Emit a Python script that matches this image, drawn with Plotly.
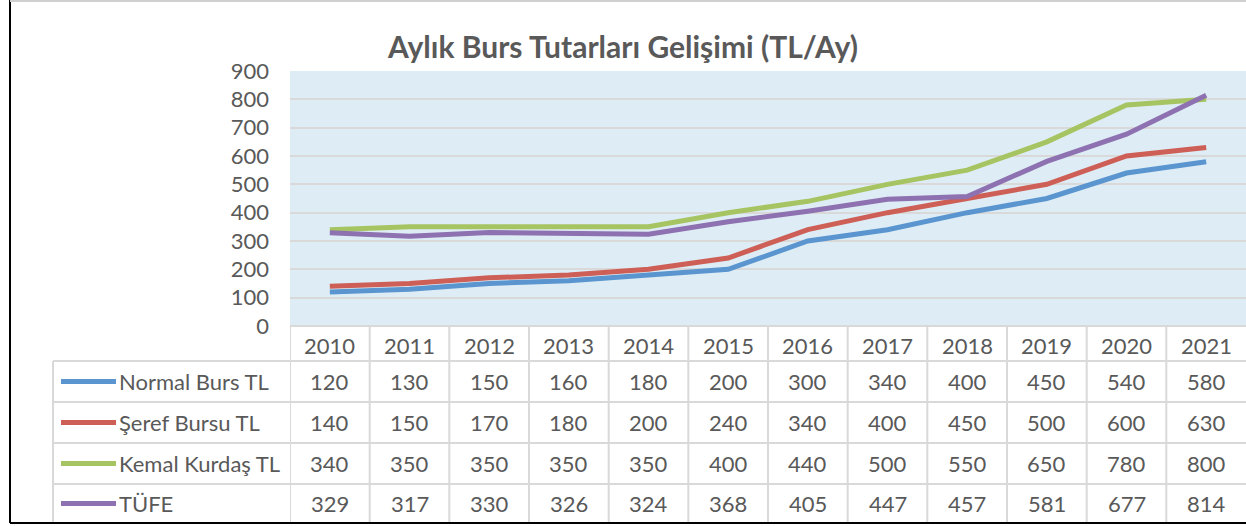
import plotly.graph_objects as go

years = ["2010", "2011", "2012", "2013", "2014", "2015", "2016", "2017", "2018", "2019", "2020", "2021"]
series_names = ["Normal Burs TL", "Şeref Bursu TL", "Kemal Kurdaş TL", "TÜFE"]
normal_burs = [120, 130, 150, 160, 180, 200, 300, 340, 400, 450, 540, 580]
seref_bursu = [140, 150, 170, 180, 200, 240, 340, 400, 450, 500, 600, 630]
kemal_kurdas = [340, 350, 350, 350, 350, 400, 440, 500, 550, 650, 780, 800]
tufe = [329, 317, 330, 326, 324, 368, 405, 447, 457, 581, 677, 814]
series_values = [normal_burs, seref_bursu, kemal_kurdas, tufe]
colors = ["#5A95CF", "#CD5F57", "#A7C463", "#8E71B0"]
y_ticks = [0, 100, 200, 300, 400, 500, 600, 700, 800, 900]

W, H = 1246, 526
L, R, T, B = 290, 0, 71, 200
FONT = "Lato"
TXT = "#595959"
GRID = "#D9D9D9"
FS = 22

def py(p):  # pixel y -> paper y
    return (H - B - p) / (H - T - B)

def px(p):  # pixel x -> paper x
    return (p - L) / (W - L - R)

fig = go.Figure()
for name, vals, c in zip(series_names, series_values, colors):
    fig.add_trace(go.Scatter(x=years, y=vals, name=name, mode="lines",
                             line=dict(color=c, width=5), showlegend=False))

shapes = []
annotations = []

row_lines = [361, 402, 443, 484, 523]
header_top = 326
label_left = 53

shapes.append(dict(type="line", xref="paper", yref="paper", x0=0, x1=1,
                   y0=py(header_top), y1=py(header_top), line=dict(color=GRID, width=2)))
for r in row_lines[:-1]:
    shapes.append(dict(type="line", xref="paper", yref="paper", x0=px(label_left), x1=1,
                       y0=py(r), y1=py(r), line=dict(color=GRID, width=2)))
shapes.append(dict(type="line", xref="paper", yref="paper", x0=px(label_left), x1=px(label_left),
                   y0=py(row_lines[0]), y1=py(row_lines[-1]), line=dict(color=GRID, width=2)))
for i in range(len(years)):
    shapes.append(dict(type="line", xref="x", yref="paper", x0=i - 0.5, x1=i - 0.5,
                       y0=py(header_top), y1=py(row_lines[-1]), line=dict(color=GRID, width=2)))

for i, yr in enumerate(years):
    annotations.append(dict(x=i, xref="x", yref="paper", y=py((header_top + row_lines[0]) / 2 + 1.5),
                            yanchor="middle", text=yr, showarrow=False,
                            font=dict(family=FONT, size=FS, color=TXT)))
for k, (name, vals, c) in enumerate(zip(series_names, series_values, colors)):
    top, bot = row_lines[k], row_lines[k + 1]
    yc = (top + bot) / 2
    shapes.append(dict(type="line", xref="paper", yref="paper", x0=px(61), x1=px(116),
                       y0=py(yc), y1=py(yc), line=dict(color=c, width=5)))
    annotations.append(dict(x=px(117), xref="paper", yref="paper", y=py(yc), xanchor="left",
                            yanchor="middle", text=name, showarrow=False,
                            font=dict(family=FONT, size=FS, color=TXT)))
    for i, v in enumerate(vals):
        annotations.append(dict(x=i, xref="x", yref="paper", y=py(yc), yanchor="middle",
                                text=str(v), showarrow=False,
                                font=dict(family=FONT, size=FS, color=TXT)))

shapes.append(dict(type="line", xref="paper", yref="paper", x0=px(10), x1=px(10),
                   y0=py(0), y1=py(523), line=dict(color="#000000", width=2)))
shapes.append(dict(type="line", xref="paper", yref="paper", x0=px(10), x1=1.0,
                   y0=py(523), y1=py(523), line=dict(color="#000000", width=2)))
shapes.append(dict(type="line", xref="paper", yref="paper", x0=px(10), x1=1.0,
                   y0=py(1), y1=py(1), line=dict(color="#D0D0D0", width=2)))

fig.update_layout(
    width=W, height=H,
    margin=dict(l=L, r=R, t=T, b=B, autoexpand=False),
    paper_bgcolor="white",
    plot_bgcolor="#DEEDF5",
    title=dict(text="<b>Aylık Burs Tutarları Gelişimi (TL/Ay)</b>", x=0.5, xref="container",
               xanchor="center", y=1 - 47 / H, yref="container", yanchor="middle",
               font=dict(family=FONT, size=30, color=TXT)),
    xaxis=dict(type="category", range=[-0.5, 11.5], showticklabels=False, showgrid=False,
               zeroline=False, ticks=""),
    yaxis=dict(range=[0, 900], tickvals=y_ticks, showgrid=True, gridcolor=GRID, gridwidth=2,
               zeroline=False, ticks="", ticklabelstandoff=20,
               tickfont=dict(family=FONT, size=FS, color=TXT)),
    shapes=shapes,
    annotations=annotations,
)

fig.write_html("out.html", config={"displayModeBar": False},
               post_script="document.body.style.margin='0';")
